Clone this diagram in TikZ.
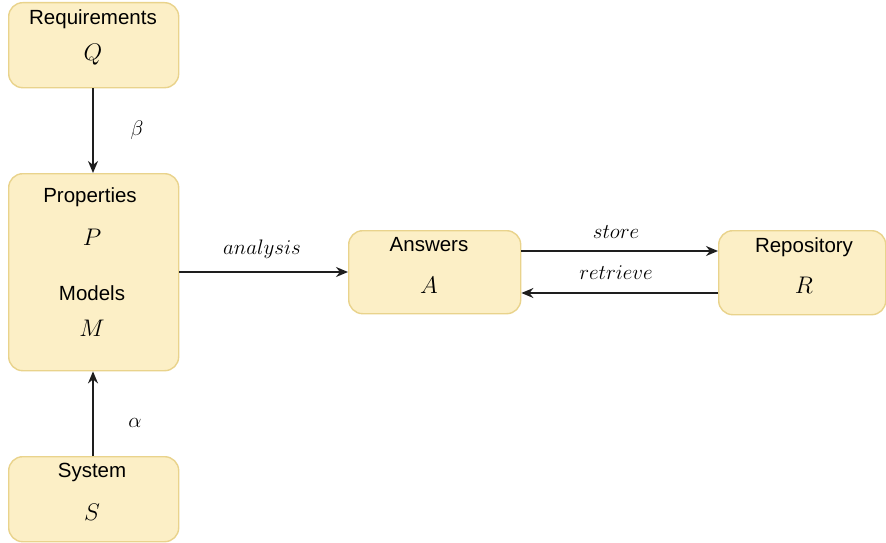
\RequirePackage{fix-cm}
\documentclass[tikz,border=0pt]{standalone}
\usepackage{fontspec}
\setsansfont{Liberation Sans}
\usetikzlibrary{arrows.meta}
\definecolor{boxfill}{HTML}{FCEFC6}
\definecolor{boxline}{HTML}{E9D38C}
\definecolor{inkline}{HTML}{1E1E1E}
\begin{document}
\begin{tikzpicture}[x=1pt,y=-1pt,
  stage/.style={draw=boxline, line width=1.4pt, fill=boxfill, rounded corners=14pt,
    inner sep=0pt, anchor=north west},
  title/.style={font=\sffamily\fontsize{20.5}{24}\selectfont, text=black, inner sep=0pt},
  sym/.style={font=\fontsize{24}{28}\selectfont, text=black, inner sep=0pt},
  lbl/.style={font=\fontsize{21}{25}\selectfont, text=black, inner sep=0pt},
  flow/.style={draw=inkline, line width=1.6pt, -{Stealth[length=12pt,width=10pt]}}]
\useasboundingbox (0,0) rectangle (886,543);

% boxes
\node[stage, minimum width=170pt, minimum height=85pt] (req) at (8,2) {};
\node[stage, minimum width=170pt, minimum height=197pt] (prop) at (8,173) {};
\node[stage, minimum width=170pt, minimum height=85pt] (sys) at (8,456) {};
\node[stage, minimum width=172pt, minimum height=83pt] (ans) at (348,230) {};
\node[stage, minimum width=167pt, minimum height=84pt] (repo) at (718,230) {};

% box contents
\node[title] (reqT) at (93,19) {Requirements};
\node[sym] (reqS) at (93,55) {$Q$};
\node[title] (propT) at (90,197) {Properties};
\node[sym] (propS) at (92,237) {$P$};
\node[title] (modT) at (92,293) {Models};
\node[sym] (modS) at (92,328) {$M$};
\node[title] (sysT) at (92,472) {System};
\node[sym] (sysS) at (92,512) {$S$};
\node[title] (ansT) at (429,245) {Answers};
\node[sym] (ansS) at (429,285) {$A$};
\node[title] (repoT) at (804,247) {Repository};
\node[sym] (repoS) at (804,285) {$R$};

% connectors
\draw[flow] (req.south -| reqS) -- (prop.north -| reqS);
\draw[flow] (sys.north -| reqS) -- (prop.south -| reqS);
\coordinate (aY) at (0,272);
\draw[flow] (prop.east |- aY) -- (ans.west |- aY);
\coordinate (sY) at (0,251);
\coordinate (rY) at (0,293);
\draw[flow] (ans.east |- sY) -- (repo.west |- sY);
\draw[flow] (repo.west |- rY) -- (ans.east |- rY);

% connector labels
\node[lbl] (beta) at (137,130) {$\beta$};
\node[lbl] (alpha) at (135,423) {$\alpha$};
\node[lbl] (anl) at (262,249) {$analysis$};
\node[lbl] (sto) at (616,232) {$store$};
\node[lbl] (ret) at (616,273) {$retrieve$};
\end{tikzpicture}
\end{document}
